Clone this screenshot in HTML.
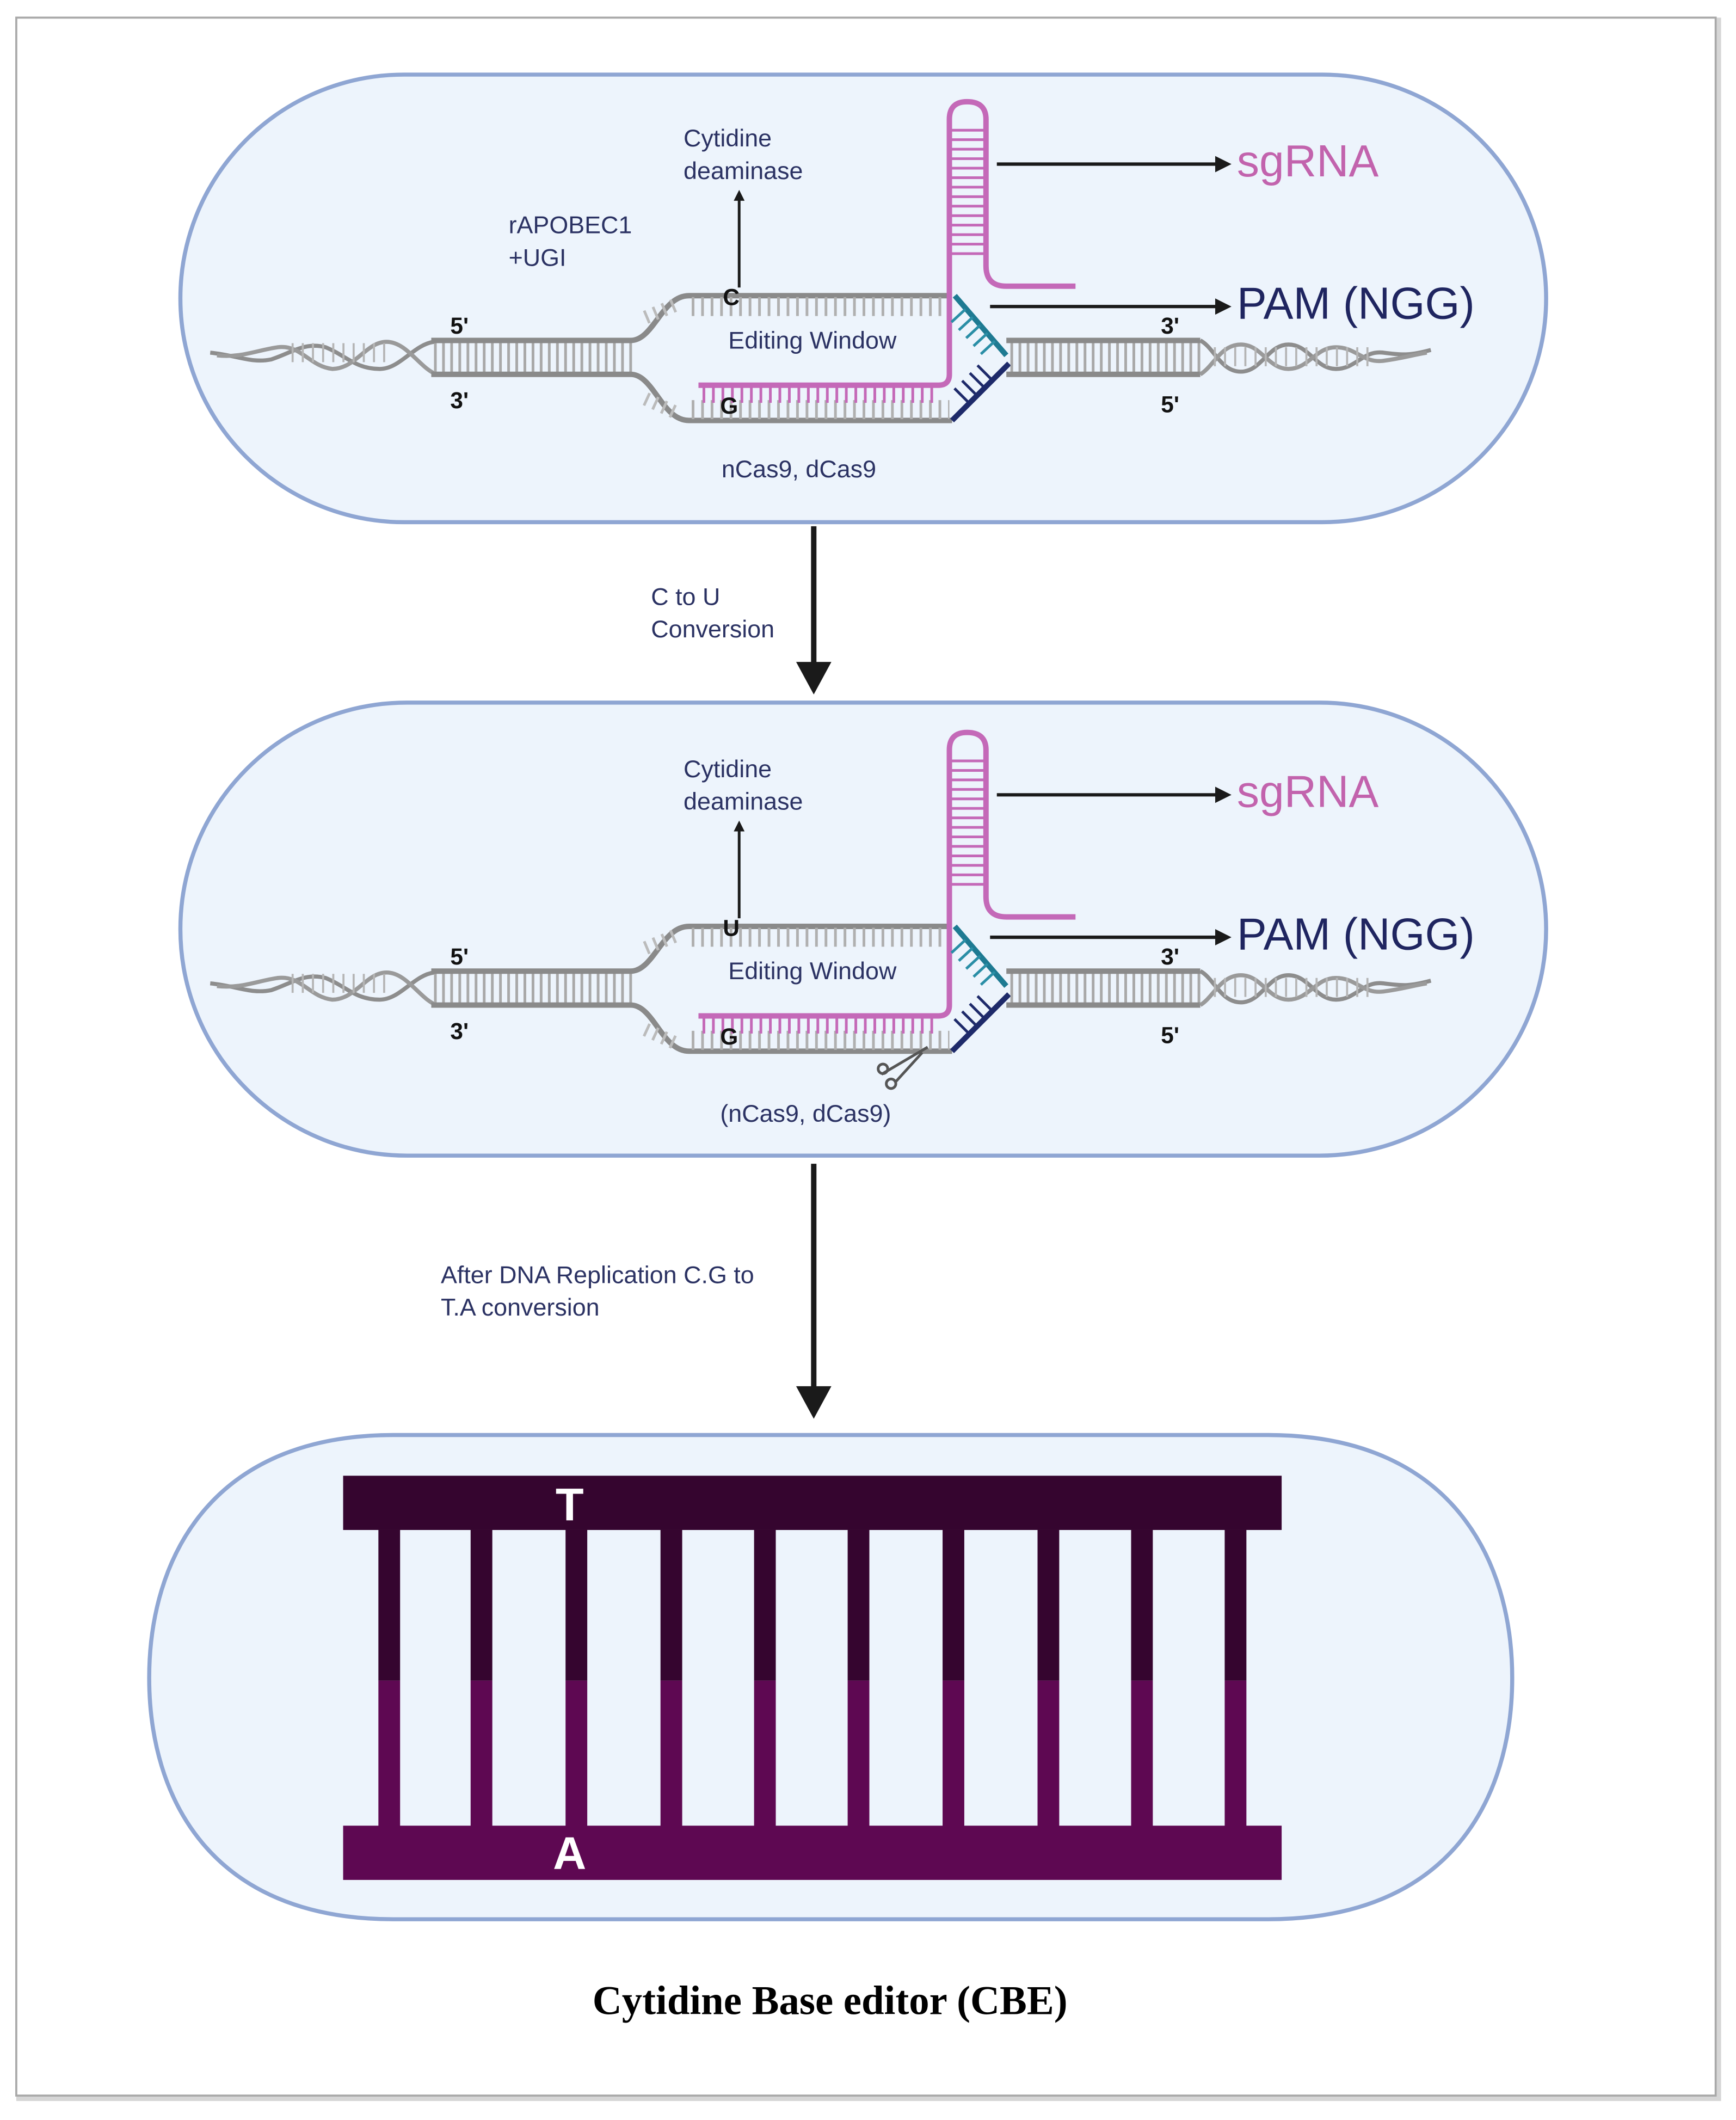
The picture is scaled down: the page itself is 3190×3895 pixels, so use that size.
<!DOCTYPE html>
<html><head><meta charset="utf-8">
<style>
html,body{margin:0;padding:0;background:#fff;width:3190px;height:3895px;overflow:hidden}
svg{display:block}
text{font-family:"Liberation Sans",sans-serif}
</style></head>
<body>
<svg width="3190" height="3895" viewBox="0 0 1280 1563" preserveAspectRatio="none" xmlns="http://www.w3.org/2000/svg">
<defs>
<marker id="ah" markerWidth="8" markerHeight="8" refX="6" refY="4" orient="auto" markerUnits="userSpaceOnUse">
<path d="M0,0 L8,4 L0,8 z" fill="#1a1a1a"/></marker>
<marker id="ahs" markerWidth="12" markerHeight="12" refX="9" refY="6" orient="auto" markerUnits="userSpaceOnUse">
<path d="M0,0 L12,6 L0,12 z" fill="#1a1a1a"/></marker>

<g id="dna">
  <path d="M155,260 C175,262 185,268 200,265 C215,260 225,252 240,256 C255,262 262,272 280,272 C295,272 305,254 320,252" fill="none" stroke="#8d8d8d" stroke-width="3"/>
  <path d="M160,262 C178,264 190,258 205,256 C222,254 228,270 245,272 C262,272 270,252 285,252 C300,252 310,272 322,276" fill="none" stroke="#9a9a9a" stroke-width="3"/>
  <path d="M215,260 L285,260" stroke="#b5b5b5" stroke-width="14" stroke-dasharray="1.5 6" fill="none"/>
  <path d="M320,263.5 L468,263.5" stroke="#a9a9a9" stroke-width="22" stroke-dasharray="2 4" fill="none"/>
  <path d="M318,251 L465,251 C482,251 488,218 508,218 L702,218" fill="none" stroke="#8a8a8a" stroke-width="4"/>
  <path d="M318,276 L465,276 C482,276 488,310 508,310 L702,310" fill="none" stroke="#8a8a8a" stroke-width="4"/>
  <path d="M510,226 L700,226" stroke="#b0b0b0" stroke-width="14" stroke-dasharray="2 5" fill="none"/>
  <path d="M510,302 L700,302" stroke="#b0b0b0" stroke-width="14" stroke-dasharray="2 5" fill="none"/>
  <path d="M476,234 L500,224" stroke="#bbb" stroke-width="10" stroke-dasharray="2 5"/>
  <path d="M476,294 L500,305" stroke="#bbb" stroke-width="10" stroke-dasharray="2 5"/>
  <path d="M518,291 L690,291" stroke="#c469b8" stroke-width="12" stroke-dasharray="2 5" fill="none"/>
  <path d="M515,284 L692,284 Q700,284 700,276 L700,88 Q700,75 713,75 Q727,75 727,88 L727,196 Q727,211 742,211 L793,211" fill="none" stroke="#c469b8" stroke-width="4"/>
  <path d="M713,95 L713,192" stroke="#c469b8" stroke-width="26" stroke-dasharray="2 5" fill="none"/>
  <path d="M704,218 L742,262" stroke="#1e7a92" stroke-width="4" fill="none"/>
  <path d="M706,232 L730,258" stroke="#2a8ea6" stroke-width="14" stroke-dasharray="2 6" fill="none"/>
  <path d="M702,310 L744,268" stroke="#1e2a6a" stroke-width="4" fill="none"/>
  <path d="M708,292 L730,270" stroke="#1e2a6a" stroke-width="14" stroke-dasharray="2 6" fill="none"/>
  <path d="M745,263.5 L888,263.5" stroke="#a9a9a9" stroke-width="22" stroke-dasharray="2 4" fill="none"/>
  <path d="M742,251 L885,251" stroke="#8a8a8a" stroke-width="4"/>
  <path d="M742,276 L885,276" stroke="#8a8a8a" stroke-width="4"/>
  <path d="M885,251 C895,256 900,274 915,274 C930,274 935,254 950,254 C965,254 970,272 985,272 C1000,272 1005,258 1020,260 C1035,262 1040,262 1055,258" fill="none" stroke="#8d8d8d" stroke-width="3"/>
  <path d="M885,276 C895,270 900,254 915,254 C930,254 935,272 950,272 C965,272 970,256 985,256 C1000,256 1005,268 1020,266 C1035,264 1040,262 1052,260" fill="none" stroke="#9a9a9a" stroke-width="3"/>
  <path d="M895,263 L1010,263" stroke="#b5b5b5" stroke-width="14" stroke-dasharray="1.5 6" fill="none"/>
  <g fill="#2b3263" font-size="18">
    <text x="504" y="108">Cytidine</text>
    <text x="504" y="132">deaminase</text>
    <text x="537" y="257">Editing Window</text>
  </g>
  <g fill="#111" font-size="17" font-weight="bold">
    <text x="332" y="246">5'</text>
    <text x="332" y="301">3'</text>
    <text x="856" y="246">3'</text>
    <text x="856" y="304">5'</text>
    <text x="531" y="305">G</text>
  </g>
  <line x1="545" y1="212" x2="545" y2="142" stroke="#1a1a1a" stroke-width="2" marker-end="url(#ah)"/>
  <line x1="735" y1="121" x2="905" y2="121" stroke="#1a1a1a" stroke-width="2.5" marker-end="url(#ahs)"/>
  <line x1="730" y1="226" x2="905" y2="226" stroke="#1a1a1a" stroke-width="2.5" marker-end="url(#ahs)"/>
  <text x="912" y="130" fill="#c263ad" font-size="33">sgRNA</text>
  <text x="912" y="235" fill="#1f2560" font-size="33">PAM (NGG)</text>
</g>
</defs>

<rect x="14" y="15" width="1253" height="1532" fill="none" stroke="#d6d6d6" stroke-width="4"/>
<rect x="12" y="13" width="1253" height="1532" fill="#fff" stroke="#a9a9a9" stroke-width="1.5"/>

<rect x="133" y="55" width="1007" height="330" rx="165" ry="165" fill="#edf4fc" stroke="#8fa6d3" stroke-width="3"/>
<use href="#dna"/>
<text x="375" y="172" fill="#2b3263" font-size="18">rAPOBEC1</text>
<text x="375" y="196" fill="#2b3263" font-size="18">+UGI</text>
<text x="533" y="225" fill="#111" font-size="17" font-weight="bold">C</text>
<text x="532" y="352" fill="#2b3263" font-size="18">nCas9, dCas9</text>

<line x1="600" y1="388" x2="600" y2="492" stroke="#1a1a1a" stroke-width="4"/>
<polygon points="587,488 613,488 600,512" fill="#1a1a1a"/>
<text x="480" y="446" fill="#2b3263" font-size="18">C to U</text>
<text x="480" y="470" fill="#2b3263" font-size="18">Conversion</text>

<rect x="133" y="518" width="1007" height="334" rx="167" ry="167" fill="#edf4fc" stroke="#8fa6d3" stroke-width="3"/>
<g transform="translate(0,465)"><use href="#dna"/></g>
<text x="533" y="690" fill="#111" font-size="17" font-weight="bold">U</text>
<text x="531" y="827" fill="#2b3263" font-size="18">(nCas9, dCas9)</text>
<g stroke="#555" stroke-width="2" fill="none">
  <line x1="650" y1="792" x2="684" y2="772"/>
  <line x1="660" y1="798" x2="680" y2="776"/>
  <circle cx="651" cy="788" r="3.5"/>
  <circle cx="657" cy="799" r="3.5"/>
</g>

<line x1="600" y1="858" x2="600" y2="1026" stroke="#1a1a1a" stroke-width="4"/>
<polygon points="587,1022 613,1022 600,1046" fill="#1a1a1a"/>
<text x="325" y="946" fill="#2b3263" font-size="18">After DNA Replication C.G to</text>
<text x="325" y="970" fill="#2b3263" font-size="18">T.A conversion</text>

<path d="M290,1058 L935,1058 C1070,1058 1115,1150 1115,1237 C1115,1325 1070,1415 935,1415 L290,1415 C155,1415 110,1325 110,1237 C110,1150 155,1058 290,1058 Z" fill="#edf4fc" stroke="#8fa6d3" stroke-width="3"/>
<rect x="253" y="1088" width="692" height="40" fill="#35052f"/>
<rect x="253" y="1346" width="692" height="40" fill="#5e0852"/>
<g fill="#35052f">
  <rect x="279" y="1128" width="16" height="111"/><rect x="347" y="1128" width="16" height="111"/>
  <rect x="417" y="1128" width="16" height="111"/><rect x="487" y="1128" width="16" height="111"/>
  <rect x="556" y="1128" width="16" height="111"/><rect x="625" y="1128" width="16" height="111"/>
  <rect x="695" y="1128" width="16" height="111"/><rect x="765" y="1128" width="16" height="111"/>
  <rect x="834" y="1128" width="16" height="111"/><rect x="903" y="1128" width="16" height="111"/>
</g>
<g fill="#5e0852">
  <rect x="279" y="1239" width="16" height="108"/><rect x="347" y="1239" width="16" height="108"/>
  <rect x="417" y="1239" width="16" height="108"/><rect x="487" y="1239" width="16" height="108"/>
  <rect x="556" y="1239" width="16" height="108"/><rect x="625" y="1239" width="16" height="108"/>
  <rect x="695" y="1239" width="16" height="108"/><rect x="765" y="1239" width="16" height="108"/>
  <rect x="834" y="1239" width="16" height="108"/><rect x="903" y="1239" width="16" height="108"/>
</g>
<text x="420" y="1121" fill="#fff" font-size="34" font-weight="bold" text-anchor="middle">T</text>
<text x="420" y="1378" fill="#fff" font-size="34" font-weight="bold" text-anchor="middle">A</text>

<text x="612" y="1485" fill="#000" font-size="30" font-weight="bold" text-anchor="middle" style="font-family:'Liberation Serif',serif">Cytidine Base editor (CBE)</text>
</svg>
</body></html>
